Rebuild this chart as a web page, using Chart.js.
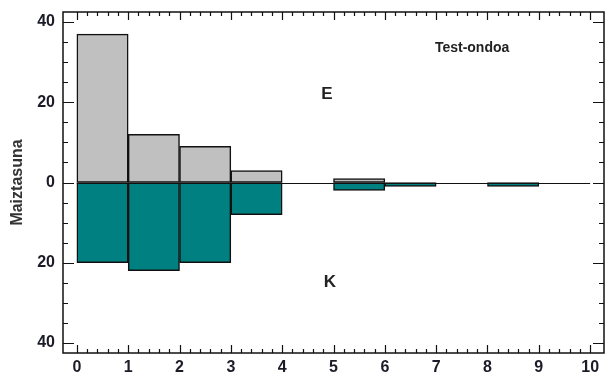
<!DOCTYPE html>
<html>
<head>
<meta charset="utf-8">
<script src="https://cdn.jsdelivr.net/npm/chart.js@4/dist/chart.umd.min.js"></script>
<style>
  html, body { margin: 0; padding: 0; background: #fff; }
  #wrap { width: 612px; height: 374px; }
</style>
</head>
<body>
<div id="wrap"><canvas id="histChart" width="612" height="374"></canvas></div>
<script>
// ==================== DATA ====================
const binCenters = [0.5, 1.5, 2.5, 3.5, 4.5, 5.5, 6.5, 7.5, 8.5, 9.5];
const eCounts = [37, 12, 9, 3, 0, 1, 0, 0, 0, 0];   // Test-ondoa E (upward)
const kCounts = [20, 22, 20, 8, 0, 2, 1, 0, 1, 0];  // K (downward)
const xTicks = [0, 1, 2, 3, 4, 5, 6, 7, 8, 9, 10];
const yTicks = [-40, -20, 0, 20, 40];
const yTitle = 'Maiztasuna';
const labels = [
    { text: 'Test-ondoa', x: 7.7, y: 33.6, size: 14 },
    { text: 'E', x: 4.87, y: 22.1, size: 17 },
    { text: 'K', x: 4.93, y: -24.9, size: 17 }
];

const FONT = "'Liberation Sans', Arial, sans-serif";

// ==================== DECORATION PLUGIN ====================
const framePlugin = {
    id: 'frame',
    afterDatasetsDraw(chart) {
        const { ctx, chartArea: a, scales: { x, y } } = chart;
        ctx.save();
        ctx.strokeStyle = '#111';

        // zero line
        ctx.lineWidth = 1;
        ctx.beginPath();
        const zy = Math.round(y.getPixelForValue(0)) + 0.5;
        ctx.moveTo(x.getPixelForValue(0), zy);
        ctx.lineTo(x.getPixelForValue(10), zy);
        ctx.stroke();

        // frame
        ctx.lineWidth = 1.5;
        ctx.strokeRect(a.left, a.top, a.right - a.left, a.bottom - a.top);

        // x ticks, inward, top and bottom
        ctx.lineWidth = 1.2;
        for (let i = 0; i <= 50; i++) {
            const v = i / 5;
            const px = Math.round(x.getPixelForValue(v)) + 0.5;
            const len = i % 5 === 0 ? 8 : 4;
            ctx.beginPath();
            ctx.moveTo(px, a.bottom); ctx.lineTo(px, a.bottom - len);
            ctx.moveTo(px, a.top); ctx.lineTo(px, a.top + len);
            ctx.stroke();
        }
        // y ticks, inward, left and right
        for (let v = -40; v <= 40; v += 5) {
            const py = Math.round(y.getPixelForValue(v)) + 0.5;
            const len = v % 20 === 0 ? 11 : 5;
            ctx.beginPath();
            ctx.moveTo(a.left, py); ctx.lineTo(a.left + len, py);
            ctx.moveTo(a.right, py); ctx.lineTo(a.right - len, py);
            ctx.stroke();
        }

        // annotations
        ctx.fillStyle = '#222';
        ctx.textAlign = 'center';
        ctx.textBaseline = 'middle';
        labels.forEach(l => {
            ctx.font = `bold ${l.size}px ${FONT}`;
            ctx.fillText(l.text, x.getPixelForValue(l.x), y.getPixelForValue(l.y));
        });

        // y axis title
        ctx.font = `bold 16px ${FONT}`;
        ctx.fillStyle = '#333';
        ctx.translate(18, y.getPixelForValue(0));
        ctx.rotate(-Math.PI / 2);
        ctx.fillText(yTitle, 0, 0);
        ctx.restore();
    }
};

// ==================== CHART ====================
const toBars = (vals, sign) => binCenters.map((c, i) => ({ x: c, y: vals[i] === 0 ? null : sign * vals[i] }));

new Chart(document.getElementById('histChart').getContext('2d'), {
    type: 'bar',
    data: {
        datasets: [
            {
                label: 'E',
                data: toBars(eCounts, 1),
                backgroundColor: '#c0c0c0',
                borderColor: '#111',
                borderWidth: 1.5,
                borderSkipped: false,
                grouped: false,
                barPercentage: 1,
                categoryPercentage: 1
            },
            {
                label: 'K',
                data: toBars(kCounts, -1),
                backgroundColor: '#008080',
                borderColor: '#111',
                borderWidth: 1.5,
                borderSkipped: false,
                grouped: false,
                barPercentage: 1,
                categoryPercentage: 1
            }
        ]
    },
    options: {
        responsive: false,
        animation: false,
        devicePixelRatio: 1,
        layout: { padding: { top: 12, right: 8, left: 0, bottom: 0 } },
        plugins: { legend: { display: false }, tooltip: { enabled: false } },
        scales: {
            x: {
                type: 'linear',
                offset: false,
                min: -0.27,
                max: 10.27,
                grid: { display: false, drawTicks: false },
                border: { display: false },
                afterBuildTicks: s => { s.ticks = xTicks.map(v => ({ value: v })); },
                afterFit: s => { s.height = 21; s.paddingLeft = 0; s.paddingRight = 0; },
                ticks: { padding: 5, color: '#1c1c28', font: { family: FONT, size: 16, weight: 'bold' }, maxRotation: 0, autoSkip: false }
            },
            y: {
                type: 'linear',
                min: -42.5,
                max: 42.5,
                grid: { display: false, drawTicks: false },
                border: { display: false },
                afterBuildTicks: s => { s.ticks = yTicks.map(v => ({ value: v })); },
                afterFit: s => { s.width = 63; s.paddingTop = 0; s.paddingBottom = 0; },
                ticks: { padding: 8, color: '#1c1c28', font: { family: FONT, size: 16, weight: 'bold' }, callback: v => Math.abs(v) }
            }
        }
    },
    plugins: [framePlugin]
});
</script>
</body>
</html>
